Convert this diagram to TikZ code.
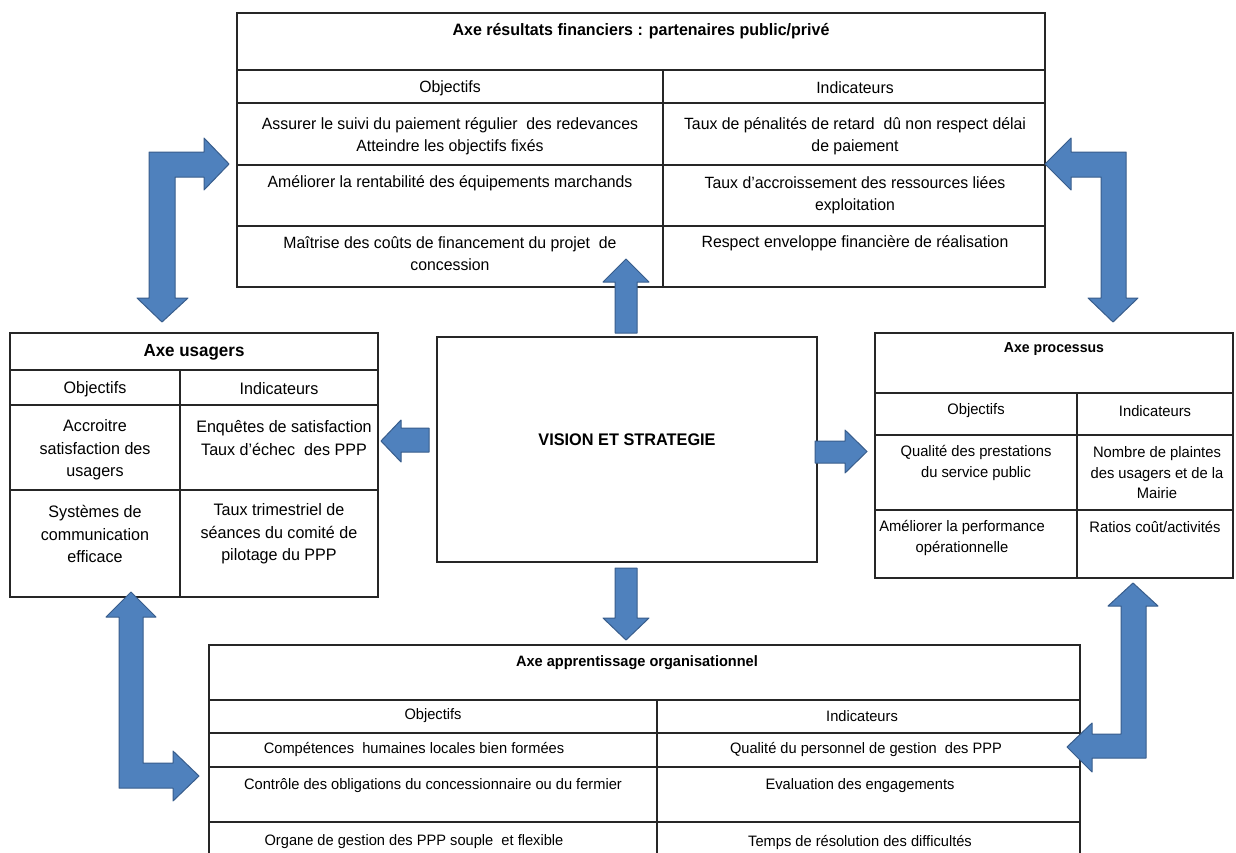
\documentclass[tikz,border=0pt]{standalone}
\usepackage{fontspec}
\setmainfont{Liberation Sans}[FakeStretch=0.97]
\definecolor{arrowblue}{RGB}{79,129,189}
\definecolor{arrowedge}{RGB}{56,93,140}
\begin{document}
\begin{tikzpicture}[x=1pt,y=-1pt,
  grid/.style={draw=black!85, line width=1.3pt},
  ttxt/.style={align=center, inner sep=0pt, font=\fontsize{16.3}{22}\selectfont},
  ltxt/.style={align=center, inner sep=0pt, font=\fontsize{16.6}{22.5}\selectfont},
  rtxt/.style={align=center, inner sep=0pt, font=\fontsize{15.2}{20.5}\selectfont},
  btxt/.style={align=center, inner sep=0pt, font=\fontsize{15.1}{20}\selectfont},
  ttl/.style={align=center, inner sep=0pt, font=\fontsize{16.5}{20}\selectfont\bfseries},
  barrow/.style={fill=arrowblue, draw=arrowedge, line width=1pt, line join=round}]
\useasboundingbox (0,0) rectangle (1236,852);
\fill[white] (0,0) rectangle (1236,852);
\clip (0,0) rectangle (1236,852);

% ---------- top box ----------
\draw[grid] (237,13) rectangle (1045,287);
\draw[grid] (237,70) -- (1045,70);
\draw[grid] (237,103) -- (1045,103);
\draw[grid] (237,165) -- (1045,165);
\draw[grid] (237,226) -- (1045,226);
\draw[grid] (663,70) -- (663,287);
\node[ttl] (tT) at (641,31) {Axe résultats financiers : partenaires public/privé};
\node[ttxt] (tO) at (450,88) {Objectifs};
\node[ttxt] (tI) at (855,88) {Indicateurs};
\node[ttxt] (t1L) at (450,136) {Assurer le suivi du paiement régulier\ \ des redevances\\Atteindre les objectifs fixés};
\node[ttxt] (t1R) at (855,136) {Taux de pénalités de retard\ \ dû non respect délai\\de paiement};
\node[ttxt] (t2L) at (450,183) {Améliorer la rentabilité des équipements marchands};
\node[ttxt] (t2R) at (855,195) {Taux d’accroissement des ressources liées\\exploitation};
\node[ttxt] (t3L) at (450,254) {Maîtrise des coûts de financement du projet\ \ de\\concession};
\node[ttxt] (t3R) at (855,243) {Respect enveloppe financière de réalisation};

% ---------- left box ----------
\draw[grid] (10,333) rectangle (378,597);
\draw[grid] (10,370) -- (378,370);
\draw[grid] (10,405) -- (378,405);
\draw[grid] (10,490) -- (378,490);
\draw[grid] (180,370) -- (180,597);
\node[ttl, font=\fontsize{17.5}{20}\selectfont\bfseries] (uT) at (194,352) {Axe usagers};
\node[ltxt] (uO) at (95,389) {Objectifs};
\node[ltxt] (uI) at (279,389) {Indicateurs};
\node[ltxt] (u1L) at (95,450) {Accroitre\\satisfaction des\\usagers};
\node[ltxt] (u1R) at (284,438) {Enquêtes de satisfaction\\Taux d’échec\ \ des PPP};
\node[ltxt] (u2L) at (95,534) {Systèmes de\\communication\\efficace};
\node[ltxt] (u2R) at (279,534) {Taux trimestriel de\\séances du comité de\\pilotage du PPP};

% ---------- right box ----------
\draw[grid] (875,333) rectangle (1233,578);
\draw[grid] (875,393) -- (1233,393);
\draw[grid] (875,435) -- (1233,435);
\draw[grid] (875,510) -- (1233,510);
\draw[grid] (1077,393) -- (1077,578);
\node[ttl, font=\fontsize{14.5}{20}\selectfont\bfseries] (pT) at (1054,349) {Axe processus};
\node[rtxt] (pO) at (976,411) {Objectifs};
\node[rtxt] (pI) at (1155,411) {Indicateurs};
\node[rtxt] (p1L) at (976,463) {Qualité des prestations\\du service public};
\node[rtxt] (p1R) at (1157,473) {Nombre de plaintes\\des usagers et de la\\Mairie};
\node[rtxt] (p2L) at (962,538) {Améliorer la performance\\opérationnelle};
\node[rtxt] (p2R) at (1155,527) {Ratios coût/activités};

% ---------- bottom box ----------
\draw[grid] (209,645) rectangle (1080,870);
\draw[grid] (209,700) -- (1080,700);
\draw[grid] (209,733) -- (1080,733);
\draw[grid] (209,767) -- (1080,767);
\draw[grid] (209,822) -- (1080,822);
\draw[grid] (657,700) -- (657,870);
\node[ttl, font=\fontsize{15}{20}\selectfont\bfseries] (aT) at (637,663) {Axe apprentissage organisationnel};
\node[btxt] (aO) at (433,716) {Objectifs};
\node[btxt] (aI) at (862,716) {Indicateurs};
\node[btxt] (a1L) at (414,749) {Compétences\ \ humaines locales bien formées};
\node[btxt] (a1R) at (866,749) {Qualité du personnel de gestion\ \ des PPP};
\node[btxt] (a2L) at (433,786) {Contrôle des obligations du concessionnaire ou du fermier};
\node[btxt] (a2R) at (860,786) {Evaluation des engagements};
\node[btxt] (a3L) at (414,842) {Organe de gestion des PPP souple\ \ et flexible};
\node[btxt] (a3R) at (860,842) {Temps de résolution des difficultés};

% ---------- centre ----------
\draw[grid] (437,337) rectangle (817,562);
\node[ttl, font=\fontsize{16.8}{20}\selectfont\bfseries] (vs) at (627,440) {VISION ET STRATEGIE};

% ---------- block arrows ----------
\draw[barrow] (615,333) -- (615,282) -- (603,282) -- (626,259) -- (649,282) -- (637,282) -- (637,333) -- cycle;
\draw[barrow] (615,568) -- (637,568) -- (637,618) -- (649,618) -- (626,640) -- (603,618) -- (615,618) -- cycle;
\draw[barrow] (429,428) -- (401,428) -- (401,420) -- (381,441) -- (401,462) -- (401,452) -- (429,452) -- cycle;
\draw[barrow] (815,441) -- (845,441) -- (845,430) -- (867,451.5) -- (845,473) -- (845,463) -- (815,463) -- cycle;
\draw[barrow] (149,152) -- (204,152) -- (204,138) -- (229,164) -- (204,190) -- (204,177) -- (175,177) -- (175,298) -- (188,298) -- (162,322) -- (137,298) -- (149,298) -- cycle;
\draw[barrow] (1126,152) -- (1071,152) -- (1071,138) -- (1045,164) -- (1071,190) -- (1071,177) -- (1101,177) -- (1101,298) -- (1088,298) -- (1113,322) -- (1138,298) -- (1126,298) -- cycle;
\draw[barrow] (119,788) -- (119,617) -- (106,617) -- (131,592) -- (156,617) -- (143,617) -- (143,763) -- (173,763) -- (173,751) -- (199,776) -- (173,801) -- (173,788) -- cycle;
\draw[barrow] (1146,758) -- (1146,606) -- (1158,606) -- (1133,583) -- (1108,606) -- (1121,606) -- (1121,734) -- (1092,734) -- (1092,723) -- (1067,747) -- (1092,772) -- (1092,758) -- cycle;
\end{tikzpicture}
\end{document}
